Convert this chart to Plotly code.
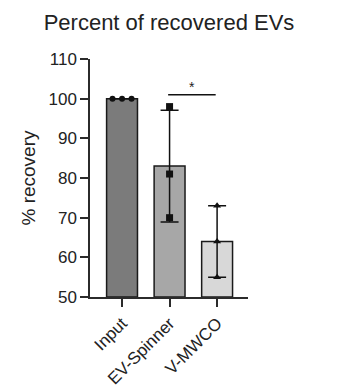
import numpy as np
import plotly.graph_objects as go

# ---- data ----
categories = ["Input", "EV-Spinner", "V-MWCO"]
input_vals = [100, 100, 100]
ev_spinner_vals = [98, 81, 70]
v_mwco_vals = [73, 64, 55]
replicates = [input_vals, ev_spinner_vals, v_mwco_vals]
y_ticks = [50, 60, 70, 80, 90, 100, 110]
sig_pairs = [("EV-Spinner", "V-MWCO", "*")]
sig_level = 101

# ---- styles ----
bar_colors = ["#7b7b7b", "#a7a7a7", "#d8d8d8"]
marker_symbols = ["circle", "square", "triangle-up"]
marker_sizes = [6, 7, 7]
jitters = [[-0.2, 0, 0.2], [0, 0, 0], [0, 0, 0]]
FONT = "Liberation Sans, Arial, sans-serif"
AX = "#2b2b2b"

xs = list(range(len(categories)))
means = [float(np.mean(r)) for r in replicates]
sds = [float(np.std(r, ddof=1)) for r in replicates]

fig = go.Figure()
fig.add_trace(go.Bar(
    x=xs, y=[m - 50 for m in means], base=50, width=0.65,
    marker=dict(color=bar_colors, line=dict(color="#1a1a1a", width=1.5)),
    error_y=dict(type="data", array=sds, color="#111111", thickness=1.5, width=9),
    showlegend=False, hoverinfo="skip",
))
for i, r in enumerate(replicates):
    fig.add_trace(go.Scatter(
        x=[xs[i] + j for j in jitters[i]], y=r, mode="markers",
        marker=dict(symbol=marker_symbols[i], size=marker_sizes[i], color="#111111"),
        showlegend=False, cliponaxis=False,
    ))

for a, b, label in sig_pairs:
    xa, xb = categories.index(a), categories.index(b)
    fig.add_shape(type="line", xref="x", yref="y", x0=xa - 0.03, x1=xb - 0.03,
                  y0=sig_level, y1=sig_level, line=dict(color="#111111", width=1.5))
    fig.add_annotation(x=(xa + xb) / 2 - 0.03, y=sig_level, yshift=8, text=label,
                       showarrow=False, font=dict(family=FONT, size=14, color="#222222"))

fig.update_layout(
    width=351, height=392,
    margin=dict(l=90, r=103, t=59, b=95),
    paper_bgcolor="white", plot_bgcolor="white",
    font=dict(family=FONT, color="#222222"),
    title=dict(text="Percent of recovered EVs", x=0.4815, xanchor="center",
               y=0.944, yanchor="middle", font=dict(family=FONT, size=22, color="#222222")),
    bargap=0.35,
)
fig.update_xaxes(
    range=[-0.674, 2.65], tickvals=xs, ticktext=categories, tickangle=-45,
    showline=True, linecolor=AX, linewidth=1.5, ticks="outside", ticklen=8,
    tickwidth=1.5, tickcolor=AX, showgrid=False, zeroline=False, automargin=False,
    tickfont=dict(family=FONT, size=17, color="#222222"),
)
fig.update_yaxes(
    range=[50, 110], tickvals=y_ticks, showline=True, linecolor=AX, linewidth=1.5,
    ticks="outside", ticklen=8, tickwidth=1.5, tickcolor=AX, showgrid=False,
    zeroline=False, automargin=False, tickfont=dict(family=FONT, size=17, color="#222222"),
    title=dict(text="% recovery", font=dict(family=FONT, size=19, color="#222222"),
               standoff=8),
)
fig.write_html("out.html")
